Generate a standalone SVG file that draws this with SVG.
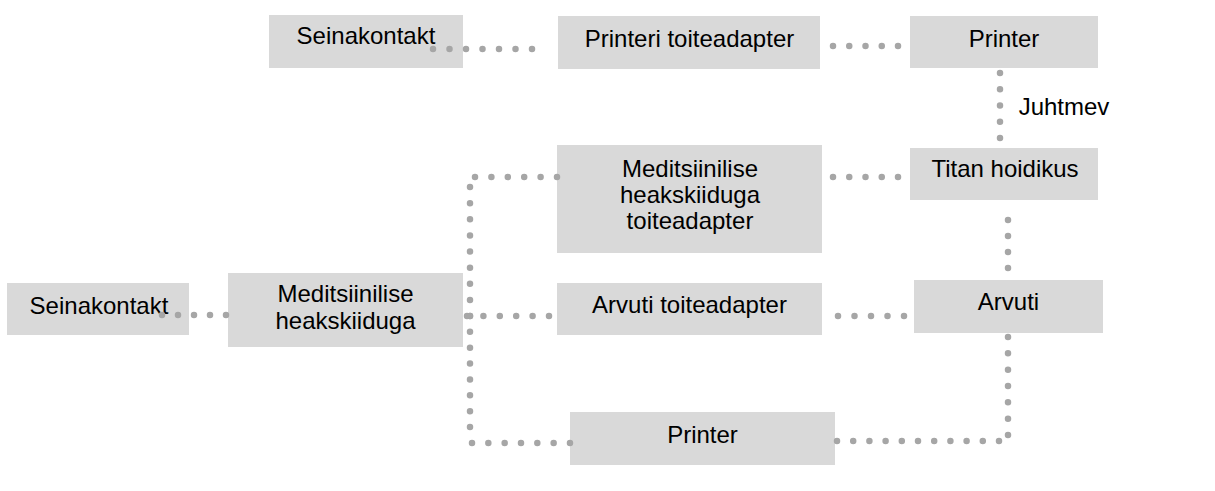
<svg xmlns="http://www.w3.org/2000/svg" width="1215" height="491" viewBox="0 0 1215 491">
<style>
.box{fill:#d9d9d9}
.t{font-family:"Liberation Sans",Arial,sans-serif;font-size:24px;fill:#000;text-anchor:middle}
.c{stroke:#a6a6a6;stroke-width:6.5;stroke-linecap:round;fill:none}
</style>
<rect width="1215" height="491" fill="#fff"/>
<g id="n1"><rect class="box" x="269" y="15" width="194" height="53"/><text class="t" x="366" y="44">Seinakontakt</text></g>
<g id="n2"><rect class="box" x="558" y="16" width="262" height="53"/><text class="t" x="689.5" y="47">Printeri toiteadapter</text></g>
<g id="n3"><rect class="box" x="910" y="16" width="188" height="52"/><text class="t" x="1004" y="47">Printer</text></g>
<g id="n4"><rect class="box" x="910" y="148" width="188" height="52"/><text class="t" x="1005" y="177">Titan hoidikus</text></g>
<g id="n5"><rect class="box" x="557" y="145" width="265" height="108"/><text class="t" x="690" y="177">Meditsiinilise</text><text class="t" x="690" y="203">heakskiiduga</text><text class="t" x="690" y="229">toiteadapter</text></g>
<g id="n6"><rect class="box" x="914" y="280" width="189" height="53"/><text class="t" x="1008.5" y="310">Arvuti</text></g>
<g id="n7"><rect class="box" x="557" y="283" width="265" height="52"/><text class="t" x="689.5" y="313">Arvuti toiteadapter</text></g>
<g id="n8"><rect class="box" x="7" y="283" width="182" height="52"/><text class="t" x="99" y="314">Seinakontakt</text></g>
<g id="n9"><rect class="box" x="228" y="273" width="235" height="74"/><text class="t" x="345.5" y="302">Meditsiinilise</text><text class="t" x="345.5" y="329">heakskiiduga</text></g>
<g id="n10"><rect class="box" x="570" y="412" width="265" height="53"/><text class="t" x="702.5" y="443">Printer</text></g>
<text class="t" x="1064" y="115">Juhtmev</text>
<g id="connectors">
<line class="c" x1="433" y1="49" x2="533" y2="49" stroke-dasharray="0 16.5"/>
<line class="c" x1="833" y1="46" x2="899" y2="46" stroke-dasharray="0 16.25"/>
<line class="c" x1="1000" y1="73" x2="1000" y2="139" stroke-dasharray="0 16.25"/>
<line class="c" x1="833" y1="177" x2="899" y2="177" stroke-dasharray="0 16.25"/>
<line class="c" x1="1008" y1="220" x2="1008" y2="269" stroke-dasharray="0 16"/>
<line class="c" x1="838" y1="316" x2="905" y2="316" stroke-dasharray="0 16.5"/>
<line class="c" x1="1008" y1="337" x2="1008" y2="436" stroke-dasharray="0 16.33"/>
<line class="c" x1="999" y1="441" x2="836" y2="441" stroke-dasharray="0 16.2"/>
<line class="c" x1="162" y1="315" x2="227" y2="315" stroke-dasharray="0 16"/>
<line class="c" x1="470" y1="316" x2="470" y2="186" stroke-dasharray="0 16.125"/>
<line class="c" x1="475" y1="177" x2="558" y2="177" stroke-dasharray="0 16.4"/>
<line class="c" x1="467" y1="316" x2="550" y2="316" stroke-dasharray="0 16.4"/>
<line class="c" x1="470" y1="316" x2="470" y2="428" stroke-dasharray="0 15.86"/>
<line class="c" x1="472" y1="443" x2="571" y2="443" stroke-dasharray="0 16.33"/>
</g>
</svg>
